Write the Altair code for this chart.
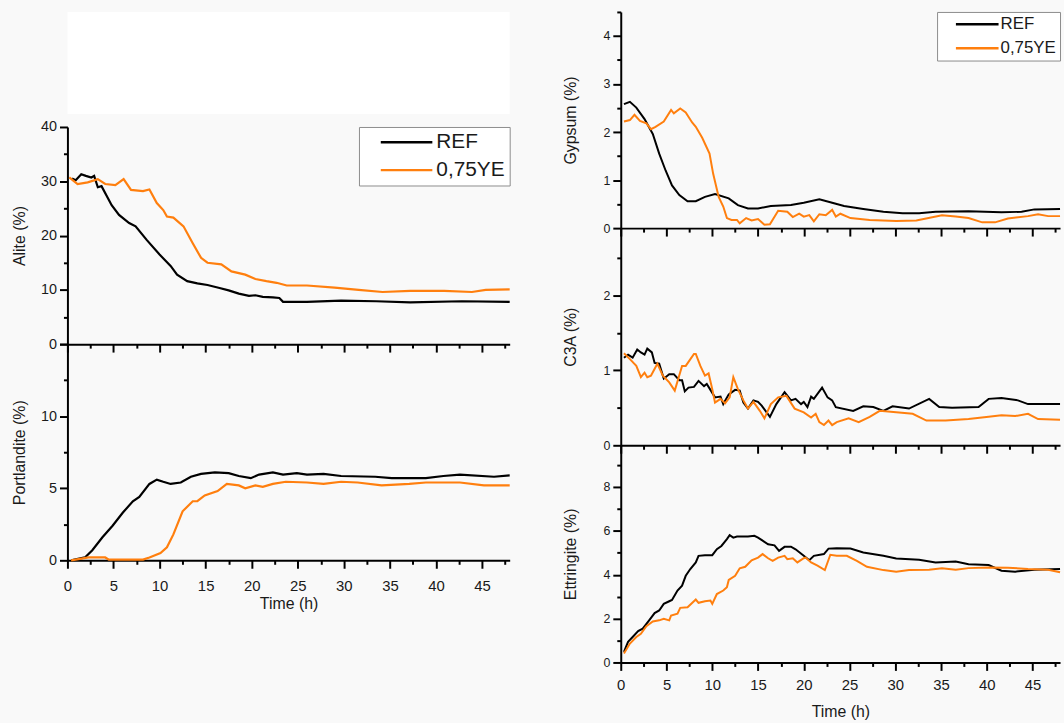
import altair as alt
import pandas as pd

SERIES = ["REF", "0,75YE"]
COLORS = ["#000000", "#ff7f0e"]
FONT = "Liberation Sans"
PANEL_FILL = "#f9f9f9"
NBSP = "\u00a0"

# ---------------- Alite (%) ----------------
alite_ref_t = [0.5, 0.9, 1.5, 2.0, 2.6, 2.9, 3.3, 3.7, 4.8, 5.6, 6.7, 7.4, 8.6, 10.0, 11.2, 11.9, 13.0, 14.1,
               15.2, 16.4, 17.5, 18.6, 19.7, 20.4, 21.2, 22.3, 23.0, 23.4, 26.0, 29.7, 33.5, 37.2, 42.8, 48.0]
alite_ref_v = [30.5, 30.2, 31.3, 31.0, 30.7, 31.0, 28.9, 29.1, 25.6, 23.8, 22.3, 21.7, 19.2, 16.5, 14.4, 12.8, 11.6, 11.2,
               10.9, 10.4, 9.9, 9.3, 8.9, 9.0, 8.7, 8.6, 8.5, 7.8, 7.8, 8.0, 7.9, 7.7, 7.9, 7.8]
alite_ye_t = [0.2, 1.1, 2.2, 3.3, 4.1, 5.2, 6.1, 6.9, 8.2, 8.9, 9.7, 10.4, 10.8, 11.5, 12.6, 13.6, 14.5, 15.2,
              16.7, 17.8, 19.3, 20.4, 21.6, 22.7, 23.8, 26.0, 29.0, 31.6, 34.2, 37.2, 40.9, 43.9, 45.4, 48.0]
alite_ye_v = [30.7, 29.5, 29.8, 30.4, 29.5, 29.3, 30.4, 28.4, 28.2, 28.5, 26.0, 24.7, 23.5, 23.3, 21.7, 18.6, 15.9, 15.0,
              14.7, 13.4, 12.8, 12.0, 11.6, 11.3, 10.8, 10.8, 10.4, 10.0, 9.6, 9.8, 9.8, 9.6, 10.0, 10.1]

# ---------------- Portlandite (%) ----------------
port_ref_t = [0.4, 1.9, 2.7, 3.8, 4.9, 6.0, 7.1, 7.8, 8.9, 9.7, 10.4, 11.2, 12.3, 13.4, 14.5, 16.0, 17.5, 18.6,
              19.9, 20.8, 22.3, 23.4, 24.9, 26.0, 27.8, 29.7, 33.4, 35.2, 38.9, 40.8, 42.6, 46.3, 48.0]
port_ref_v = [0.0, 0.2, 0.7, 1.6, 2.4, 3.3, 4.1, 4.4, 5.3, 5.6, 5.45, 5.3, 5.4, 5.8, 6.0, 6.1, 6.05, 5.85,
              5.7, 5.95, 6.1, 5.95, 6.05, 5.95, 6.0, 5.85, 5.8, 5.7, 5.7, 5.85, 5.95, 5.8, 5.9]
port_ye_t = [0.4, 2.3, 4.1, 4.5, 8.2, 8.9, 10.1, 10.8, 11.5, 12.5, 13.6, 14.1, 14.9, 16.3, 17.3, 18.6, 19.3,
             20.4, 21.2, 22.3, 23.7, 26.0, 27.8, 29.7, 31.5, 34.1, 37.1, 38.9, 42.6, 45.2, 48.0]
port_ye_v = [0.0, 0.2, 0.2, 0.05, 0.05, 0.2, 0.5, 0.9, 1.8, 3.4, 4.1, 4.1, 4.5, 4.8, 5.3, 5.2, 5.0,
             5.2, 5.1, 5.3, 5.45, 5.4, 5.3, 5.45, 5.4, 5.2, 5.3, 5.4, 5.4, 5.2, 5.2]

# ---------------- Gypsum (%) ----------------
gyp_ref_t = [0.35, 1.0, 1.7, 2.6, 3.5, 4.2, 4.9, 5.6, 6.4, 7.3, 8.2, 9.2, 10.3, 11.8, 12.8, 13.9, 15.0, 16.4,
             18.6, 20.0, 21.7, 22.9, 24.4, 26.5, 28.7, 30.8, 32.6, 34.4, 38.0, 41.6, 43.8, 45.2, 48.0]
gyp_ref_v = [2.58, 2.63, 2.51, 2.27, 1.96, 1.55, 1.2, 0.89, 0.69, 0.56, 0.56, 0.65, 0.71, 0.62, 0.48, 0.41, 0.41, 0.46,
             0.48, 0.53, 0.6, 0.54, 0.46, 0.4, 0.34, 0.31, 0.31, 0.34, 0.35, 0.33, 0.34, 0.39, 0.4]
gyp_ye_t = [0.35, 1.0, 1.5, 2.1, 2.8, 3.3, 3.8, 4.7, 5.5, 5.8, 6.5, 7.1, 7.8, 8.2, 8.9, 9.7, 10.1, 10.7, 11.2,
            11.6, 12.1, 12.7, 13.0, 13.7, 14.3, 15.0, 15.7, 16.3, 17.2, 18.2, 18.8, 19.5, 20.0, 20.6, 21.1, 21.7,
            22.4, 23.1, 23.5, 24.0, 25.1, 27.2, 30.1, 32.3, 35.1, 36.6, 38.0, 39.5, 40.9, 42.3, 44.5, 45.6, 46.7, 48.0]
gyp_ye_v = [2.22, 2.25, 2.36, 2.23, 2.18, 2.06, 2.11, 2.22, 2.46, 2.39, 2.49, 2.41, 2.2, 2.11, 1.88, 1.55, 1.13, 0.65, 0.45,
            0.21, 0.17, 0.17, 0.1, 0.21, 0.16, 0.19, 0.07, 0.08, 0.36, 0.34, 0.23, 0.3, 0.24, 0.27, 0.14, 0.29,
            0.27, 0.38, 0.24, 0.3, 0.21, 0.17, 0.15, 0.16, 0.27, 0.24, 0.21, 0.12, 0.12, 0.2, 0.25, 0.29, 0.25, 0.25]

# ---------------- C3A (%) ----------------
c3a_ref_t = [0.35, 0.8, 1.3, 1.8, 2.2, 2.6, 2.9, 3.4, 3.7, 4.2, 4.7, 5.3, 5.8, 6.4, 6.7, 7.0, 7.4, 8.0, 8.5, 9.1,
             9.4, 9.8, 10.3, 10.9, 11.2, 11.8, 12.5, 13.0, 13.4, 13.9, 14.5, 15.0, 15.4, 16.3, 17.0, 17.9, 18.6,
             19.1, 19.7, 20.0, 20.4, 20.8, 21.1, 22.0, 22.6, 23.1, 23.5, 25.4, 26.5, 27.6, 28.7, 29.7, 31.5,
             33.7, 34.8, 36.2, 39.1, 40.2, 41.6, 43.4, 44.5, 48.0]
c3a_ref_v = [1.17, 1.21, 1.17, 1.28, 1.24, 1.21, 1.29, 1.24, 1.1, 1.09, 0.89, 0.95, 0.95, 0.87, 0.87, 0.72, 0.77, 0.78,
             0.86, 0.79, 0.82, 0.74, 0.64, 0.65, 0.55, 0.68, 0.74, 0.73, 0.57, 0.49, 0.6, 0.58, 0.53, 0.38, 0.55,
             0.71, 0.6, 0.62, 0.55, 0.58, 0.51, 0.65, 0.62, 0.77, 0.64, 0.6, 0.51, 0.46, 0.52, 0.51, 0.46, 0.52,
             0.49, 0.62, 0.51, 0.5, 0.51, 0.62, 0.63, 0.6, 0.55, 0.55]
c3a_ye_t = [0.35, 1.0, 1.7, 2.2, 2.6, 2.9, 3.3, 4.0, 4.6, 5.3, 5.9, 6.7, 7.1, 8.0, 8.2, 8.7, 9.2, 9.6, 10.0,
            10.3, 10.9, 11.4, 11.9, 12.3, 12.8, 13.4, 13.9, 14.5, 15.2, 15.7, 16.4, 17.2, 18.1, 19.0, 20.0,
            20.8, 21.3, 21.7, 22.2, 22.7, 23.1, 23.6, 24.9, 26.0, 27.2, 28.3, 30.1, 31.9, 33.4, 35.5, 38.0,
            40.2, 41.6, 43.1, 44.5, 45.6, 48.0]
c3a_ye_v = [1.23, 1.15, 1.06, 0.91, 0.97, 0.91, 0.93, 1.09, 0.93, 0.84, 0.73, 1.06, 1.06, 1.22, 1.22, 1.06, 0.93,
            0.96, 0.75, 0.57, 0.62, 0.56, 0.64, 0.91, 0.75, 0.6, 0.49, 0.58, 0.46, 0.36, 0.55, 0.64, 0.66, 0.49,
            0.44, 0.37, 0.42, 0.31, 0.27, 0.33, 0.27, 0.31, 0.36, 0.31, 0.38, 0.46, 0.44, 0.42, 0.33, 0.33, 0.35,
            0.38, 0.4, 0.39, 0.42, 0.35, 0.34]

# ---------------- Ettringite (%) ----------------
ett_ref_t = [0.35, 0.8, 1.3, 1.9, 2.4, 3.1, 3.7, 4.2, 4.7, 5.3, 5.6, 6.2, 6.7, 7.1, 7.6, 8.2, 8.5, 9.2, 10.0,
             10.5, 11.0, 11.6, 11.9, 12.3, 12.7, 13.9, 14.6, 15.0, 16.1, 16.8, 17.3, 17.9, 18.6, 19.1, 20.0,
             20.6, 21.1, 22.2, 22.7, 23.6, 25.1, 26.5, 28.7, 30.1, 32.6, 34.4, 36.6, 38.0, 40.2, 41.6, 43.1,
             45.2, 48.0]
ett_ref_v = [0.48, 0.94, 1.16, 1.43, 1.54, 1.92, 2.25, 2.37, 2.67, 2.79, 2.85, 3.28, 3.5, 3.95, 4.26, 4.56, 4.86,
             4.89, 4.89, 5.16, 5.31, 5.62, 5.8, 5.69, 5.74, 5.74, 5.77, 5.69, 5.39, 5.34, 5.09, 5.27, 5.28, 5.16,
             4.86, 4.66, 4.86, 4.94, 5.19, 5.21, 5.19, 5.01, 4.86, 4.74, 4.68, 4.56, 4.6, 4.48, 4.44, 4.18, 4.14,
             4.23, 4.26]
ett_ye_t = [0.35, 1.0, 1.7, 2.2, 2.8, 3.5, 4.2, 4.7, 5.3, 5.5, 6.2, 6.5, 7.3, 8.2, 8.5, 9.2, 9.8, 10.0, 10.5,
            11.2, 11.6, 11.8, 12.5, 13.0, 13.6, 14.3, 15.0, 15.5, 16.1, 16.6, 17.2, 17.9, 18.2, 18.8, 19.3,
            20.0, 20.2, 20.8, 21.5, 22.3, 22.9, 23.6, 24.7, 25.8, 26.9, 28.7, 30.1, 31.5, 33.7, 35.1, 36.6,
            38.0, 40.2, 42.3, 44.5, 46.7, 48.0]
ett_ye_v = [0.41, 0.86, 1.16, 1.31, 1.65, 1.87, 1.92, 1.99, 1.92, 2.14, 2.22, 2.49, 2.52, 2.87, 2.72, 2.79, 2.82,
            2.67, 3.12, 3.28, 3.43, 3.76, 3.95, 4.29, 4.36, 4.66, 4.78, 4.94, 4.75, 4.63, 4.78, 4.86, 4.71, 4.75,
            4.56, 4.75, 4.78, 4.56, 4.41, 4.21, 4.91, 4.86, 4.86, 4.63, 4.36, 4.21, 4.14, 4.21, 4.23, 4.29, 4.23,
            4.3, 4.33, 4.32, 4.26, 4.23, 4.11]

X_DOMAIN = [0, 48]
X_TICKS = [i * 2.5 for i in range(20)]
LINE_SYMBOL = "M-4,0H4"


def frame(t_ref, v_ref, t_ye, v_ye):
    return pd.DataFrame({
        "t": t_ref + t_ye,
        "v": v_ref + v_ye,
        "s": [SERIES[0]] * len(t_ref) + [SERIES[1]] * len(t_ye),
    })


def cond_size(step, big, small):
    return {"condition": {"test": f"datum.value % {step} === 0", "value": big}, "value": small}


def panel(df, ytitle, ydom, yticks, ymajor, ylabel_max, height, width, ylab_size,
          x_labels, xlab_size=15, xlab_pad=3, xtitle_pad=6, legend=None, title_x=-48, stroke_w=2.2):
    x_axis_kwargs = dict(
        values=X_TICKS, format="~g",
        labelExpr="datum.value % 5 === 0 ? datum.label : ''",
        tickSize=cond_size(5, 8, 4), tickWidth=2, tickColor="black",
        domainColor="black", domainWidth=2, grid=False,
        labelFont=FONT, labelFontSize=xlab_size, labelColor="#1a1a1a", labelPadding=xlab_pad,
        labelFlush=False, labelOverlap=False,
    )
    if x_labels:
        x_axis = alt.Axis(title="Time (h)", titleFont=FONT, titleFontSize=16, titleFontWeight="normal",
                          titleColor="#1a1a1a", titlePadding=xtitle_pad, **x_axis_kwargs)
    else:
        x_axis_kwargs["labels"] = False
        x_axis = alt.Axis(title=None, **x_axis_kwargs)
    y_axis = alt.Axis(
        values=yticks, format="~g",
        labelExpr=f"(datum.value % {ymajor} === 0 && datum.value <= {ylabel_max}) ? datum.label : ''",
        tickSize=cond_size(ymajor, 8, 4), tickWidth=2, tickColor="black",
        domainColor="black", domainWidth=2, grid=False,
        labelFont=FONT, labelFontSize=ylab_size, labelColor="#1a1a1a", labelPadding=3,
        labelFlush=False, labelOverlap=False,
        title=ytitle, titleFont=FONT, titleFontSize=16, titleFontWeight="normal", titleColor="#1a1a1a",
        titleX=title_x, titleBaseline="middle",
    )
    color = alt.Color("s:N", scale=alt.Scale(domain=SERIES, range=COLORS), legend=legend)
    return alt.Chart(df).mark_line(strokeWidth=stroke_w).encode(
        x=alt.X("t:Q", scale=alt.Scale(domain=X_DOMAIN, nice=False, zero=False), axis=x_axis),
        y=alt.Y("v:Q", scale=alt.Scale(domain=ydom, nice=False, zero=False), axis=y_axis),
        color=color,
        order=alt.Order("t:Q"),
    ).properties(width=width, height=height)


def make_legend(font_size, sym_len, sym_offset, label_offset, pad, row_pad, tail):
    root = sym_len / 4.0
    return alt.Legend(
        title=None, orient="top-right", offset=0,
        fillColor="white", strokeColor="#8c8c8c", padding=pad,
        labelFont=FONT, labelFontSize=font_size, labelColor="#1a1a1a", labelLimit=300,
        labelOffset=label_offset, labelExpr=f"datum.label + '{tail}'",
        symbolType=LINE_SYMBOL, symbolSize=root * root, symbolStrokeWidth=2.5,
        symbolOffset=sym_offset, rowPadding=row_pad,
    )


LEFT_W = 446
RIGHT_W = 443

alite = panel(frame(alite_ref_t, alite_ref_v, alite_ye_t, alite_ye_v), "Alite (%)", [0, 40],
              [i * 5 for i in range(9)], 10, 40, 219, LEFT_W, 14.5, False,
              legend=make_legend(21, 52, 32.5, 19.5, 5, 6, NBSP * 2))
port = panel(frame(port_ref_t, port_ref_v, port_ye_t, port_ye_v), "Portlandite (%)", [0, 15],
             [i * 2.5 for i in range(7)], 5, 10, 218, LEFT_W, 14.5, True,
             xlab_size=15, xlab_pad=10.5, xtitle_pad=2.5)

gyp = panel(frame(gyp_ref_t, gyp_ref_v, gyp_ye_t, gyp_ye_v), "Gypsum (%)", [0, 4.5],
            [i * 0.5 for i in range(10)], 1, 4, 218, RIGHT_W, 12.5, False,
            legend=make_legend(17, 43, 28, 15, 4, 6, NBSP), title_x=-51, stroke_w=2)
c3a = panel(frame(c3a_ref_t, c3a_ref_v, c3a_ye_t, c3a_ye_v), "C3A (%)", [0, 2.9],
            [i * 0.5 for i in range(6)], 1, 2, 219, RIGHT_W, 12.5, False, title_x=-51, stroke_w=2)
ett = panel(frame(ett_ref_t, ett_ref_v, ett_ye_t, ett_ye_v), "Ettringite (%)", [0, 9.9],
            [i for i in range(10)], 2, 8, 219, RIGHT_W, 12.5, True,
            xlab_size=15, xlab_pad=7, xtitle_pad=12, title_x=-51, stroke_w=2)

spacer_white = alt.Chart(pd.DataFrame({"t": [0]})).mark_point(opacity=0).properties(
    width=LEFT_W, height=103, view=alt.ViewBackground(fill="white", strokeWidth=0)
)
spacer_clear = alt.Chart(pd.DataFrame({"t": [0]})).mark_point(opacity=0).properties(
    width=LEFT_W, height=13
)

left = alt.vconcat(spacer_white, spacer_clear, alite, port, spacing=0, bounds="flush").resolve_legend(
    color="independent")
right = alt.vconcat(gyp, c3a, ett, spacing=0, bounds="flush").resolve_legend(color="independent")

chart = alt.hconcat(left, right, spacing=48, bounds="full").resolve_legend(
    color="independent"
).properties(
    padding={"left": 12, "top": 3, "right": 0, "bottom": 0},
    background=PANEL_FILL,
).configure_view(strokeWidth=0)

chart.save("out.html", embed_options={"renderer": "svg", "actions": False})
